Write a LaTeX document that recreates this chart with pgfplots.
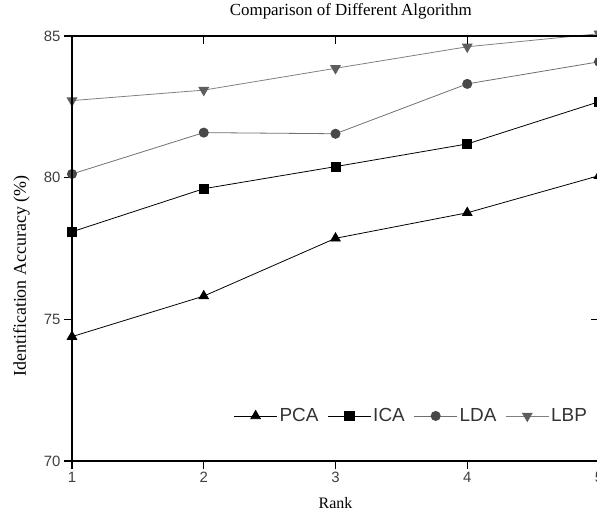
\documentclass[border=0pt]{standalone}
\usepackage{fontspec}
\setmainfont{Liberation Serif}
\newfontfamily\arial{Liberation Sans}
\usepackage{pgfplots}
\pgfplotsset{compat=1.18}
\definecolor{ldaline}{HTML}{707070}
\definecolor{ldamark}{HTML}{484848}
\definecolor{lbpline}{HTML}{808080}
\definecolor{lbpmark}{HTML}{5E5E5E}
\begin{document}
\begin{tikzpicture}[x=1bp,y=1bp]
\begin{axis}[
  at={(0,0)}, anchor=south west,
  scale only axis, width=527bp, height=425bp,
  xmin=1, xmax=5, ymin=70, ymax=85,
  xtick={1,2,3,4,5}, ytick={70,75,80,85},
  xtick pos=left, ytick pos=left, tick align=outside,
  major tick length=8bp,
  axis line style={line width=1.6bp},
  tick style={line width=1.3bp, black},
  /pgf/number format/assume math mode=true,
  ticklabel style={font=\arial\fontsize{15}{17}\selectfont, text=black!75},
  title={Comparison of Different Algorithm},
  title style={at={(axis description cs:0.529,1)}, anchor=base, yshift=15bp, font=\fontsize{17}{20}\selectfont},
  xlabel={Rank},
  xlabel style={at={(axis description cs:0.5,-0.1129)}, anchor=base, font=\fontsize{16}{19}\selectfont},
  ylabel={Identification Accuracy (\%)},
  ylabel style={at={(axis description cs:-0.0873,0.435)}, anchor=base, font=\fontsize{18}{21}\selectfont},
  clip=false,
  legend style={draw=none, fill=none, at={(axis description cs:0.987,0.106)}, anchor=east,
    font=\arial\fontsize{19}{22}\selectfont, text=black!80,
    /tikz/every even column/.append style={column sep=7bp}},
  legend columns=4,
  legend image code/.code={\draw[mark repeat=2,mark phase=2] plot coordinates {(0bp,0bp)(21.5bp,0bp)(43bp,0bp)};},
]
\addplot[black, line width=0.8bp, mark=triangle*, mark size=5.5bp, mark options={solid,fill=black}]
  coordinates {(1,74.39) (2,75.82) (3,77.86) (4,78.76) (5,80.07)};
\addlegendentry{PCA}
\addplot[black, line width=0.8bp, mark=square*, mark size=4.6bp, mark options={solid,fill=black}]
  coordinates {(1,78.09) (2,79.61) (3,80.39) (4,81.19) (5,82.68)};
\addlegendentry{ICA}
\addplot[ldaline, line width=0.8bp, mark=*, mark size=4.6bp, mark options={solid,fill=ldamark,draw=ldamark}]
  coordinates {(1,80.13) (2,81.59) (3,81.55) (4,83.31) (5,84.09)};
\addlegendentry{LDA}
\addplot[lbpline, line width=0.8bp, mark=triangle*, mark size=5.5bp, mark options={solid,rotate=180,fill=lbpmark,draw=lbpmark}]
  coordinates {(1,82.72) (2,83.09) (3,83.86) (4,84.62) (5,85.08)};
\addlegendentry{LBP}
\end{axis}
\begin{axis}[
  at={(0,0)}, anchor=south west,
  scale only axis, width=527bp, height=425bp,
  xmin=1, xmax=5, ymin=70, ymax=85,
  xtick={1,2,3,4,5}, ytick={70,75,80,85},
  xtick pos=right, ytick pos=right, tick align=inside,
  major tick length=8bp,
  axis line style={line width=1.6bp},
  tick style={line width=1.3bp, black},
  xticklabels={}, yticklabels={},
]
\end{axis}
\pgfresetboundingbox
\useasboundingbox (-72bp,-52bp) rectangle (525bp,461bp);
\end{tikzpicture}
\end{document}
